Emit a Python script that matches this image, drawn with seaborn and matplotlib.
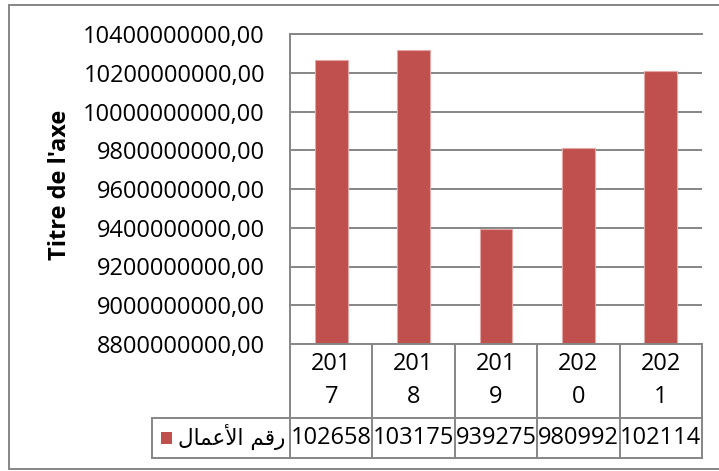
import numpy as np
import pandas as pd
import matplotlib
matplotlib.use("Agg")
import matplotlib.pyplot as plt
from matplotlib.transforms import blended_transform_factory
import seaborn as sns

# Chart data
years = ["2017", "2018", "2019", "2020", "2021"]
turnover = [10265800000, 10317500000, 9392750000, 9809920000, 10211400000]
y_ticks = [8800000000, 9000000000, 9200000000, 9400000000, 9600000000,
           9800000000, 10000000000, 10200000000, 10400000000]
series_name = "رقم الأعمال"
# matplotlib has no Arabic shaping: the same name written with
# presentation forms, in left-to-right visual order
series_name_visual = "\uFEDD\uFE8E\uFEE4\uFECB\uFEF7\uFE8D \uFEE2\uFED7\uFEAD"
axis_title = "Titre de l'axe"

BAR = "#C0504D"
GRID = "#868686"
W, H = 719, 471

sns.set_theme(style="white")
plt.rcParams["font.family"] = ["Open Sans", "DejaVu Sans"]

fig = plt.figure(figsize=(W / 100, H / 100), dpi=100)
fig.patch.set_facecolor("white")


def fx(px):
    return px / W


def fy(py):
    return 1 - py / H


left, right, top, bottom = 290, 702, 34, 344
ax = fig.add_axes([fx(left), fy(bottom), (right - left) / W, (bottom - top) / H])

df = pd.DataFrame({"year": years, "value": turnover})
sns.barplot(data=df, x="year", y="value", color=BAR, saturation=1,
            width=0.4, edgecolor="#E3A8A6", linewidth=0.8, ax=ax)

ax.set_ylim(y_ticks[0], y_ticks[-1])
ax.set_xlim(-0.5, len(years) - 0.5)
ax.set_yticks(y_ticks)
ax.set_yticklabels([f"{v:.2f}".replace(".", ",") for v in y_ticks],
                   fontsize=17, color="black")
ax.tick_params(axis="y", length=0, pad=18)
ax.tick_params(axis="x", length=0, labelbottom=False)
ax.set_xlabel("")
ax.set_ylabel("")
ax.yaxis.grid(True, color=GRID, linewidth=1.4)
ax.set_axisbelow(True)
for side in ["right", "left"]:
    ax.spines[side].set_visible(False)
for side in ["top", "bottom"]:
    ax.spines[side].set_color(GRID)
    ax.spines[side].set_linewidth(1.4)

fig.text(fx(60), fy(185), axis_title, rotation=90, ha="center", va="center",
         fontsize=17, fontweight="bold", color="black")

# Data table below the plot
tr = blended_transform_factory(ax.transData, fig.transFigure)
row_cat = (344, 418)
row_val = (418, 458)
line_kw = dict(color=GRID, linewidth=1.4, solid_capstyle="projecting")

# vertical separators between categories (first one is the value axis)
for i in range(len(years) + 1):
    xb = i - 0.5
    y0 = top if i == 0 else row_cat[0]
    fig.add_artist(plt.Line2D([xb, xb], [fy(y0), fy(row_val[1])],
                              transform=tr, **line_kw))
# series row borders, including the label cell
for yy in (row_val[0], row_val[1]):
    fig.add_artist(plt.Line2D([fx(152), fx(right)], [fy(yy), fy(yy)],
                              transform=fig.transFigure, **line_kw))
fig.add_artist(plt.Line2D([fx(152), fx(152)], [fy(row_val[0]), fy(row_val[1])],
                          transform=fig.transFigure, **line_kw))

for i, (yr, v) in enumerate(zip(years, turnover)):
    fig.text(i, fy(364), yr[:3], transform=tr, ha="center", va="center",
             fontsize=17, color="black")
    fig.text(i, fy(397), yr[3:], transform=tr, ha="center", va="center",
             fontsize=17, color="black")
    fig.text(i, fy(438), str(int(v))[:6], transform=tr, ha="center",
             va="center", fontsize=17, color="black")

# legend key and series name
fig.patches.append(plt.Rectangle((fx(161), fy(444)), 11 / W, 12 / H,
                                 transform=fig.transFigure, facecolor=BAR,
                                 edgecolor="none"))
fig.text(fx(232), fy(437), series_name_visual, ha="center", va="center",
         fontsize=15.5, color="black", family="DejaVu Sans")

# chart-area frame
frame_kw = dict(color=GRID, linewidth=1.4, transform=fig.transFigure)
fig.add_artist(plt.Line2D([fx(9), fx(W)], [fy(5), fy(5)], **frame_kw))
fig.add_artist(plt.Line2D([fx(9), fx(9)], [fy(5), fy(469)], **frame_kw))
fig.add_artist(plt.Line2D([fx(9), fx(W)], [fy(469), fy(469)], **frame_kw))

fig.savefig("out.png", dpi=100, facecolor="white")
